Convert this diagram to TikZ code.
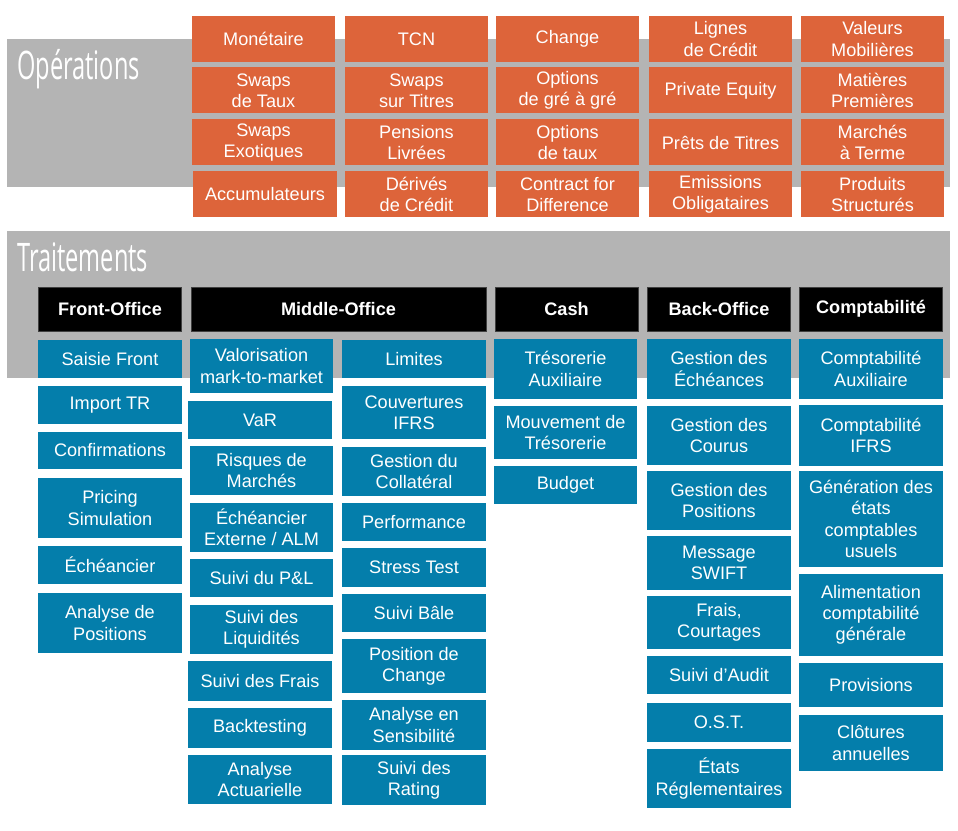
\documentclass[tikz,border=0pt]{standalone}
\usepackage{fontspec}
\setmainfont{Liberation Sans}
\newfontfamily\bandfont[FakeStretch=0.6]{Open Sans}
\definecolor{opcol}{RGB}{221,100,58}
\definecolor{trcol}{RGB}{4,126,171}
\definecolor{bandcol}{RGB}{180,180,180}

\begin{document}
\begin{tikzpicture}[x=0.75pt,y=-0.75pt,
  box/.style={rectangle,inner sep=0pt,align=center,text=white,
    font=\fontsize{13.6}{15.9}\selectfont,minimum width=107.5pt},
  op node/.style={box,fill=opcol,minimum height=34.5pt},
  head node/.style={box,fill=black,draw=black!75,font=\fontsize{13.6}{15.9}\selectfont\bfseries,minimum height=33pt},
  tr node/.style={box,fill=trcol},
  tall/.style={minimum height=#1*0.75pt},
  band title/.style={anchor=base west,inner sep=0pt,text=white,font=\bandfont\fontsize{29.5}{30}\selectfont}]

  \useasboundingbox (0,0) rectangle (958,831);

  % grey bands
  \fill[bandcol] (7,39) rectangle (950,187);
  \fill[bandcol] (7,231) rectangle (950,378);
  \node[band title] (optitle) at (17,80) {Opérations};
  \node[band title] (trtitle) at (17,272) {Traitements};

  % Operations
  \node[op node] (mon) at (263.5,39) {Monétaire};
  \node[op node] (tcn) at (416.5,39) {TCN};
  \node[op node] (chg) at (567.5,39) {Change};
  \node[op node] (lig) at (720.5,39) {Lignes\\de Crédit};
  \node[op node] (vmo) at (872.5,39) {Valeurs\\Mobilières};

  \node[op node] (swt) at (263.5,90.5) {Swaps\\de Taux};
  \node[op node] (sti) at (416.5,90.5) {Swaps\\sur Titres};
  \node[op node] (ogg) at (567.5,90.5) {Options\\de gré à gré};
  \node[op node] (peq) at (720.5,90.5) {Private Equity};
  \node[op node] (mpr) at (872.5,90.5) {Matières\\Premières};

  \node[op node] (sex) at (263.5,142.5) {Swaps\\Exotiques};
  \node[op node] (pli) at (416.5,142.5) {Pensions\\Livrées};
  \node[op node] (otx) at (567.5,142.5) {Options\\de taux};
  \node[op node] (pti) at (720.5,142.5) {Prêts de Titres};
  \node[op node] (mat) at (872.5,142.5) {Marchés\\à Terme};

  \node[op node] (acc) at (265,194.5) {Accumulateurs};
  \node[op node] (dcr) at (416.5,194.5) {Dérivés\\de Crédit};
  \node[op node] (cfd) at (567.5,194.5) {Contract for\\Difference};
  \node[op node] (emo) at (720.5,194.5) {Emissions\\Obligataires};
  \node[op node] (pst) at (872.5,194.5) {Produits\\Structurés};

  % Traitements headers
  \node[head node] (front) at (110,309) {Front-Office};
  \node[head node,minimum width=221pt] (middle) at (338.5,309) {Middle-Office};
  \node[head node] (cash) at (566.5,309) {Cash};
  \node[head node] (back) at (719,309) {Back-Office};
  \node[head node] (compta) at (871,309) {Comptabilité};

  % Front-Office
  \node[tr node,tall=38] (saisie) at (110,359) {Saisie Front};
  \node[tr node,tall=38] (import) at (110,405) {Import TR};
  \node[tr node,tall=37] (confirm) at (110,450.5) {Confirmations};
  \node[tr node,tall=60] (pricing) at (110,508) {Pricing\\Simulation};
  \node[tr node,tall=38] (echeance) at (110,565) {Échéancier};
  \node[tr node,tall=60] (anapos) at (110,623) {Analyse de\\Positions};

  % Middle-Office
  \node[tr node,tall=54] (valo) at (261.5,366) {Valorisation\\mark-to-market};
  \node[tr node,tall=38] (var) at (260,420) {VaR};
  \node[tr node,tall=49] (risques) at (261.5,470.5) {Risques de\\Marchés};
  \node[tr node,tall=49] (echext) at (261.5,527.5) {Échéancier\\Externe / ALM};
  \node[tr node,tall=38] (pnl) at (261.5,578) {Suivi du P\&L};
  \node[tr node,tall=49] (liquid) at (261.5,629.5) {Suivi des\\Liquidités};
  \node[tr node,tall=40] (frais) at (260,681) {Suivi des Frais};
  \node[tr node,tall=40] (backtest) at (260,728) {Backtesting};
  \node[tr node,tall=49] (actuar) at (260,779.5) {Analyse\\Actuarielle};

  \node[tr node,tall=38] (limites) at (414,359) {Limites};
  \node[tr node,tall=53] (couv) at (414,412.5) {Couvertures\\IFRS};
  \node[tr node,tall=49] (collat) at (414,471.5) {Gestion du\\Collatéral};
  \node[tr node,tall=38] (perf) at (414,522) {Performance};
  \node[tr node,tall=39] (stress) at (414,567.5) {Stress Test};
  \node[tr node,tall=38] (bale) at (414,613) {Suivi Bâle};
  \node[tr node,tall=54] (poschg) at (414,666) {Position de\\Change};
  \node[tr node,tall=50] (sensib) at (414,725) {Analyse en\\Sensibilité};
  \node[tr node,tall=50] (rating) at (414,780) {Suivi des\\Rating};

  % Cash
  \node[tr node,tall=60] (tresaux) at (565.5,369) {Trésorerie\\Auxiliaire};
  \node[tr node,tall=53] (mouv) at (565.5,432.5) {Mouvement de\\Trésorerie};
  \node[tr node,tall=38] (budget) at (565.5,485) {Budget};

  % Back-Office
  \node[tr node,tall=60] (gech) at (719,369) {Gestion des\\Échéances};
  \node[tr node,tall=59] (gcour) at (719,435.5) {Gestion des\\Courus};
  \node[tr node,tall=59] (gpos) at (719,500.5) {Gestion des\\Positions};
  \node[tr node,tall=54] (swift) at (719,563) {Message\\SWIFT};
  \node[tr node,tall=53] (courtage) at (719,622.5) {Frais,\\Courtages};
  \node[tr node,tall=38] (audit) at (719,675) {Suivi d’Audit};
  \node[tr node,tall=39] (ost) at (719,722.5) {O.S.T.};
  \node[tr node,tall=59] (etats) at (719,778.5) {États\\Réglementaires};

  % Comptabilite
  \node[tr node,tall=60] (caux) at (871,369) {Comptabilité\\Auxiliaire};
  \node[tr node,tall=61] (cifrs) at (871,435.5) {Comptabilité\\IFRS};
  \node[tr node,tall=96] (gen) at (871,519) {Génération des\\états\\comptables\\usuels};
  \node[tr node,tall=82] (alim) at (871,615) {Alimentation\\comptabilité\\générale};
  \node[tr node,tall=44] (prov) at (871,685) {Provisions};
  \node[tr node,tall=56] (clot) at (871,743) {Clôtures\\annuelles};

\end{tikzpicture}
\end{document}
